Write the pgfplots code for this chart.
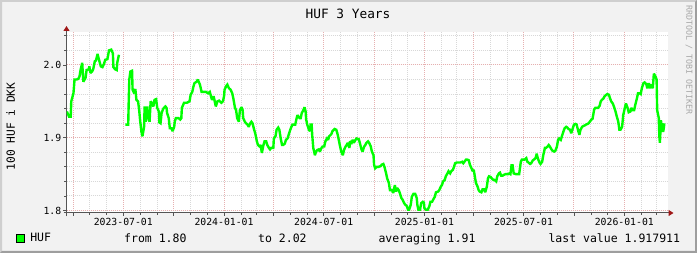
\documentclass[border=0pt]{standalone}
\usepackage{pgfplots}
\pgfplotsset{compat=1.18}
\usepackage{fontspec}
\setmainfont{DejaVu Sans Mono}
\usetikzlibrary{arrows.meta}
\definecolor{bg}{HTML}{F2F2F2}
\definecolor{shadea}{HTML}{CFCFCF}
\definecolor{shadeb}{HTML}{9E9E9E}
\definecolor{mingrid}{HTML}{D8D8D8}
\definecolor{majgrid}{HTML}{E6B0B0}
\definecolor{axisgray}{HTML}{555555}
\definecolor{arrowred}{HTML}{A01818}
\definecolor{hufgreen}{HTML}{00FF00}
\definecolor{wm}{HTML}{A8A8A8}
\pgfplotstableread{
d v
-103 1.936
-99 1.929
-96 1.929
-95 1.950
-91 1.961
-89 1.980
-85 1.980
-82 1.981
-80 1.984
-78 1.993
-75 2.003
-73 1.977
-69 1.982
-67 1.993
-63 1.994
-62 1.998
-60 1.989
-57 1.991
-55 1.994
-52 2.005
-50 2.006
-47 2.015
-45 2.009
-41 1.998
-38 1.997
-35 2.002
-33 2.007
-29 2.008
-26 2.020
-22 2.021
-19 2.016
-18 1.997
-15 1.994
-12 1.993
-11 2.003
-8 2.014
-5 nan
4 1.918
9 1.918
10 1.952
11 1.980
13 1.991
16 1.992
17 1.966
20 1.961
22 1.967
24 1.952
27 1.950
29 1.938
31 1.922
33 1.909
35 1.902
38 1.915
39 1.943
41 1.922
44 1.943
45 1.929
48 1.922
50 1.950
52 1.948
55 1.943
57 1.952
60 1.953
62 1.941
65 1.936
66 1.921
68 1.920
70 1.934
72 1.938
74 1.941
77 1.943
79 1.941
80 1.934
83 1.927
85 1.913
88 1.913
90 1.909
93 1.915
94 1.922
96 1.927
101 1.927
104 1.925
106 1.927
107 1.941
111 1.948
116 1.948
121 1.950
123 1.959
126 1.963
128 1.970
130 1.975
134 1.977
136 1.980
140 1.973
143 1.963
146 1.963
151 1.963
155 1.961
158 1.963
162 1.952
165 1.957
167 1.950
169 1.943
172 1.950
175 1.951
179 1.948
182 1.950
184 1.957
185 1.966
188 1.971
190 1.973
193 1.968
196 1.966
199 1.961
201 1.954
204 1.941
206 1.938
208 1.927
211 1.922
213 1.938
216 1.942
218 1.938
219 1.927
222 1.922
224 1.920
227 1.918
229 1.915
232 1.920
234 1.922
236 1.920
239 1.911
241 1.906
244 1.895
246 1.890
249 1.888
251 1.890
253 1.879
256 1.890
258 1.895
261 1.895
263 1.890
266 1.886
268 1.884
270 1.886
274 1.886
275 1.899
278 1.902
280 1.911
283 1.914
285 1.911
288 1.897
290 1.890
292 1.890
295 1.892
297 1.897
300 1.899
302 1.904
305 1.911
307 1.915
309 1.918
314 1.918
316 1.925
318 1.931
322 1.927
324 1.927
326 1.934
329 1.938
331 1.942
333 1.936
334 1.925
336 1.918
339 1.911
341 1.909
342 1.918
344 1.918
345 1.904
347 1.886
350 1.876
352 1.881
354 1.883
357 1.884
359 1.881
362 1.886
364 1.888
367 1.888
369 1.895
372 1.899
374 1.897
376 1.902
380 1.905
382 1.909
386 1.912
389 1.911
391 1.906
393 1.899
396 1.888
398 1.881
401 1.876
403 1.883
406 1.888
408 1.890
410 1.893
413 1.886
414 1.895
417 1.893
419 1.897
421 1.893
424 1.897
426 1.899
430 1.898
432 1.893
435 1.884
437 1.881
440 1.888
442 1.890
444 1.893
447 1.895
449 1.893
452 1.888
454 1.881
457 1.876
458 1.863
460 1.858
463 1.860
466 1.860
470 1.861
472 1.863
475 1.864
477 1.860
480 1.851
482 1.844
485 1.838
487 1.828
491 1.828
493 1.824
496 1.835
498 1.826
500 1.831
503 1.828
505 1.824
508 1.817
510 1.815
513 1.810
515 1.808
518 1.806
520 1.801
522 1.801
525 1.808
527 1.819
530 1.823
533 1.823
536 1.817
537 1.808
539 1.801
542 1.801
544 1.810
547 1.812
549 1.811
550 1.803
553 1.801
556 1.801
559 1.806
561 1.812
564 1.812
566 1.815
569 1.819
571 1.825
575 1.826
577 1.828
580 1.833
582 1.835
584 1.840
587 1.842
589 1.847
592 1.851
594 1.854
597 1.851
599 1.854
602 1.856
604 1.860
606 1.865
609 1.866
612 1.866
616 1.866
619 1.867
621 1.865
623 1.867
626 1.870
628 1.870
631 1.869
633 1.863
636 1.858
638 1.854
640 1.856
642 1.847
644 1.838
647 1.833
649 1.828
651 1.826
654 1.825
656 1.829
659 1.829
661 1.825
664 1.833
666 1.844
668 1.847
671 1.846
673 1.844
676 1.842
678 1.842
681 1.840
683 1.847
686 1.851
688 1.852
690 1.848
693 1.848
695 1.849
698 1.850
700 1.850
703 1.850
705 1.851
707 1.850
709 1.862
711 1.862
713 1.851
717 1.850
721 1.850
723 1.850
726 1.867
728 1.870
731 1.870
733 1.870
736 1.872
738 1.867
740 1.866
743 1.864
745 1.865
748 1.869
750 1.870
753 1.872
755 1.878
757 1.872
760 1.866
762 1.864
765 1.867
767 1.876
770 1.886
772 1.886
775 1.888
777 1.890
779 1.888
782 1.884
784 1.882
787 1.881
789 1.882
792 1.888
794 1.897
796 1.899
799 1.897
801 1.902
804 1.909
806 1.913
809 1.915
811 1.914
813 1.912
816 1.911
818 1.906
821 1.913
823 1.918
826 1.919
828 1.918
831 1.909
833 1.904
835 1.911
838 1.915
840 1.916
843 1.917
845 1.918
848 1.919
850 1.920
852 1.922
855 1.925
857 1.926
860 1.939
862 1.941
865 1.941
867 1.941
870 1.944
872 1.950
874 1.952
877 1.954
879 1.957
882 1.959
884 1.960
887 1.959
889 1.954
891 1.950
894 1.947
896 1.943
899 1.936
901 1.930
904 1.922
906 1.911
908 1.911
911 1.915
913 1.931
916 1.941
918 1.947
921 1.941
923 1.935
926 1.936
928 1.941
930 1.938
933 1.938
935 1.945
938 1.954
940 1.961
943 1.961
945 1.960
947 1.968
950 1.975
952 1.976
955 1.974
957 1.968
960 1.975
962 1.968
964 1.973
967 1.968
969 1.988
972 1.984
974 1.980
975 1.938
978 1.927
979 1.902
980 1.893
982 1.924
983 1.911
984 1.920
986 1.908
988 1.918
990 1.918
}\huf
\begin{document}
\begin{tikzpicture}[x=1pt,y=1pt]
\useasboundingbox (0,0) rectangle (697,253);
\fill[bg] (0,0) rectangle (697,253);
\fill[shadea] (0,0) -- (0,253) -- (697,253) -- (695,251) -- (2,251) -- (2,2) -- cycle;
\fill[shadeb] (0,0) -- (697,0) -- (697,253) -- (695,251) -- (695,2) -- (2,2) -- cycle;
\begin{axis}[
  at={(66.5pt,40pt)}, anchor=south west,
  scale only axis, width=601pt, height=180.5pt,
  xmin=-103.7, xmax=993.9, ymin=1.7966, ymax=2.0446,
  axis x line=bottom, axis y line=left,
  axis background/.style={fill=white},
  x axis line style={axisgray, line width=1pt, shorten <=-3pt, shorten >=-6pt, -{Triangle[length=5pt,width=6pt,color=arrowred]}},
  y axis line style={axisgray, line width=1pt, shorten <=-3.5pt, shorten >=-6.5pt, -{Triangle[length=5pt,width=6pt,color=arrowred]}},
  xtick={-91,0,92,184,275,366,458,550,640,731,823,915},
  xticklabels={,2023-07-01,,2024-01-01,,2024-07-01,,2025-01-01,,2025-07-01,,2026-01-01},
  minor xtick={-61,-30,31,62,123,153,215,244,305,336,397,428,489,519,581,609,670,701,762,793,854,884,946,974},
  ytick={1.8,1.9,2.0},
  yticklabels={1.8,1.9,2.0},
  minor ytick={1.82,1.84,1.86,1.88,1.92,1.94,1.96,1.98,2.02,2.04},
  tick align=outside,
  major tick length=3pt, minor tick length=2pt,
  tick style={axisgray, line width=0.8pt},
  grid=both,
  major grid style={majgrid, line width=1pt, dash pattern=on 1pt off 1pt},
  minor grid style={mingrid, line width=1pt, dash pattern=on 1pt off 1pt},
  xticklabel style={font=\fontsize{9.8}{10}\selectfont, inner sep=0pt, yshift=-2pt},
  yticklabel style={font=\fontsize{9.8}{10}\selectfont, inner sep=0pt, xshift=-2pt},
  unbounded coords=jump,
  legend style={at={(axis description cs:-0.0845,-0.140)}, anchor=west, draw=none, fill=none, inner sep=0pt,
    font=\fontsize{11.5}{12}\selectfont, /tikz/every odd column/.append style={column sep=4pt}},
  legend image code/.code={\draw[fill=hufgreen, draw=black, line width=0.8pt] (0pt,-4.2pt) rectangle (7.6pt,4.2pt);},
]
\addplot[hufgreen, line width=2.4pt, line join=miter, miter limit=2] table[x=d, y=v] {\huf};
\addlegendentry{HUF}
\end{axis}
\node[font=\fontsize{12.8}{13}\selectfont, anchor=base, inner sep=0pt] at (348,234.7) {HUF 3 Years};
\node[font=\fontsize{11.2}{12}\selectfont, rotate=90, inner sep=0pt] at (10.8,126.5) {100 HUF i DKK};
\node[font=\fontsize{8.3}{9}\selectfont, rotate=-90, inner sep=0pt, text=wm] at (689,193) {RRDTOOL / TOBI OETIKER};
\node[font=\fontsize{11.5}{12}\selectfont, anchor=base west, inner sep=0pt] at (124,10.3) {from 1.80};
\node[font=\fontsize{11.5}{12}\selectfont, anchor=base west, inner sep=0pt] at (258,10.3) {to 2.02};
\node[font=\fontsize{11.5}{12}\selectfont, anchor=base west, inner sep=0pt] at (378.3,10.3) {averaging 1.91};
\node[font=\fontsize{11.5}{12}\selectfont, anchor=base west, inner sep=0pt] at (548.3,10.3) {last value 1.917911};
\end{tikzpicture}
\end{document}
